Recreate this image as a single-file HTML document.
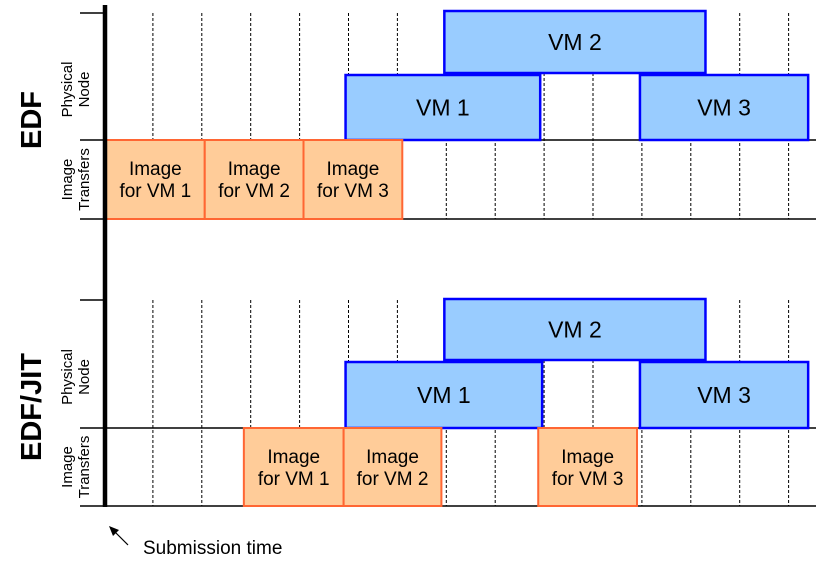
<!DOCTYPE html>
<html><head><meta charset="utf-8"><style>
body{margin:0;background:#fff;}
svg{display:block;font-family:"Liberation Sans",Arial,sans-serif;}
</style></head><body>
<svg id="c" width="816" height="566"></svg>
<script>
const gridTimes=[1,2,3,4,5,6,7,8,9,10,11,12,13,14];
const panels=["EDF","EDF/JIT"];
const vmNames=["VM 1","VM 2","VM 3"];
const edfVmStart=[4.94,6.96,10.96];
const edfVmEnd=[8.92,12.3,14.4];
const edfImgStart=[0.04,2.06,4.08];
const edfImgEnd=[2.06,4.08,6.1];
const jitVmStart=[4.94,6.96,10.96];
const jitVmEnd=[8.96,12.3,14.4];
const jitImgStart=[2.86,4.9,8.88];
const jitImgEnd=[4.9,6.9,10.9];
const NS="http://www.w3.org/2000/svg";
const svg=document.getElementById('c');
const X=t=>104+t*48.9;
function mk(tag,a,p){const e=document.createElementNS(NS,tag);for(const k in a)e.setAttribute(k,a[k]);(p||svg).appendChild(e);return e;}
const panelY=[{top:13,mid:140,bot:219,vmHi:[75,11,75]},{top:300,mid:428,bot:506,vmHi:[362,299,362]}];
const data=[[edfVmStart,edfVmEnd,edfImgStart,edfImgEnd],[jitVmStart,jitVmEnd,jitImgStart,jitImgEnd]];
panels.forEach((name,pi)=>{
  const P=panelY[pi];
  const g=mk('g',{});
  
  
  gridTimes.forEach(t=>{
    const l=mk('line',{x1:X(t),x2:X(t),y1:P.top,y2:P.bot,stroke:'#000','stroke-width':1,'stroke-dasharray':'3,2'},g);
    
    
  });
  mk('line',{x1:80,x2:105,y1:P.top,y2:P.top,stroke:'#000','stroke-width':1.5},g);
  mk('line',{x1:80,x2:816,y1:P.mid,y2:P.mid,stroke:'#000','stroke-width':1.5},g);
  mk('line',{x1:80,x2:816,y1:P.bot,y2:P.bot,stroke:'#000','stroke-width':1.5},g);
  const [vs,ve,is,ie]=data[pi];
  vmNames.forEach((vn,i)=>{
    const y1=P.vmHi[i], y2=i==1?P.vmHi[0]-2:P.mid;
    const r=mk('rect',{x:X(vs[i]),y:y1,width:X(ve[i])-X(vs[i]),height:y2-y1,fill:'#99ccff',stroke:'#0000ff','stroke-width':2.5},g);
    
    
    const t=mk('text',{x:(X(vs[i])+X(ve[i]))/2,y:(y1+y2)/2+8,'text-anchor':'middle','font-size':23},g);t.textContent=vn;
    const ir=mk('rect',{x:X(is[i]),y:P.mid,width:X(ie[i])-X(is[i]),height:P.bot-P.mid,fill:'#ffcc99',stroke:'#ff6633','stroke-width':2},g);
    
    
    const cx=(X(is[i])+X(ie[i]))/2;
    const a=mk('text',{x:cx,y:P.mid+35,'text-anchor':'middle','font-size':19},g);a.textContent='Image';
    const b=mk('text',{x:cx,y:P.mid+57,'text-anchor':'middle','font-size':19},g);b.textContent='for VM '+(i+1);
  });
  const ty=(P.top+P.bot)/2+4;
  const tl=mk('text',{x:0,y:0,transform:`translate(41,${ty}) rotate(-90)`,'text-anchor':'middle','font-size':29,'font-weight':'bold'},g);tl.textContent=name;
  
  
  const pm=(P.top+P.mid)/2+13, im=(P.mid+P.bot)/2;
  const p1=mk('text',{transform:`translate(72,${pm}) rotate(-90)`,'text-anchor':'middle','font-size':15},g);p1.textContent='Physical';
  const p2=mk('text',{transform:`translate(89,${pm}) rotate(-90)`,'text-anchor':'middle','font-size':15},g);p2.textContent='Node';
  const i1=mk('text',{transform:`translate(72,${im}) rotate(-90)`,'text-anchor':'middle','font-size':15},g);i1.textContent='Image';
  const i2=mk('text',{transform:`translate(89,${im}) rotate(-90)`,'text-anchor':'middle','font-size':15},g);i2.textContent='Transfers';
});
const ax=mk('line',{x1:105,x2:105,y1:5,y2:507,stroke:'#000','stroke-width':4.5});


mk('line',{x1:128,y1:545,x2:113,y2:530,stroke:'#000','stroke-width':1.2});
mk('polygon',{points:'109,526 119,530 113,536',fill:'#000'});
const st=mk('text',{x:143,y:554,'font-size':19});st.textContent='Submission time';


</script>
</body></html>
